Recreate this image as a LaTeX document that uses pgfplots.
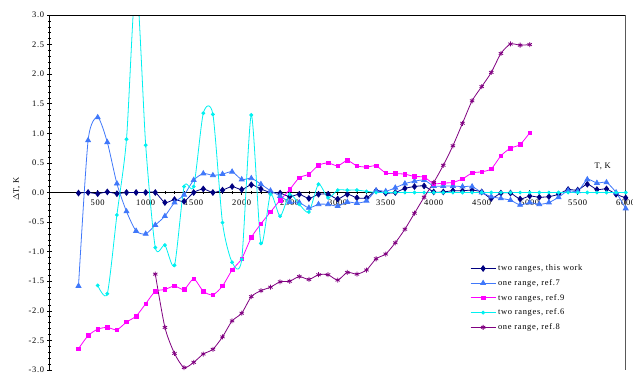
\documentclass[border=0pt]{standalone}
\usepackage{fontspec}
\setmainfont[LetterSpace=8]{Liberation Serif}
\usepackage{pgfplots}
\pgfplotsset{compat=1.18}
\definecolor{cnavy}{RGB}{0,0,128}
\definecolor{cblue}{RGB}{64,120,250}
\definecolor{cmag}{RGB}{255,0,255}
\definecolor{ccyan}{RGB}{0,240,240}
\definecolor{cpurp}{RGB}{128,0,128}
\begin{document}
\fontsize{8.5}{10}\selectfont
\begin{tikzpicture}
\begin{axis}[
  scale only axis, width=576bp, height=355bp,
  at={(0,0)}, anchor=south west,
  xmin=0, xmax=6000, ymin=-3, ymax=3,
  axis x line=middle, axis y line=left,
  axis line style={-, black, line width=0.8pt},
  xtick={500,1000,...,6000}, minor x tick num=4,
  ytick={-3,-2.5,...,3}, minor y tick num=4,
  tick align=center, major tick length=5bp, minor tick length=3bp,
  tick style={black, line width=0.6pt},
  xticklabel style={font=\fontsize{8.5}{10}\selectfont, yshift=-2bp},
  yticklabel style={font=\fontsize{8.5}{10}\selectfont},
  /pgf/number format/assume math mode=true,
  yticklabel={\pgfmathprintnumber[fixed,fixed zerofill,precision=1]{\tick}},
  xticklabel={\pgfmathprintnumber[int detect,1000 sep={}]{\tick}},
  ylabel={$\Delta$T, K},
  ylabel style={at={(axis description cs:-0.057,0.51)}, anchor=center, rotate=0, font=\fontsize{8.5}{10}\selectfont},
  legend style={at={(rel axis cs:0.728,0.305)}, anchor=north west, draw=none, fill=none,
     font=\fontsize{8.5}{10}\selectfont, row sep=3.5bp, inner sep=1bp},
  legend image code/.code={\draw[mark repeat=2,mark phase=2] plot coordinates {(0bp,0bp)(12.5bp,0bp)(25bp,0bp)};},
  legend cell align=left,
  clip=true,
  every axis plot/.append style={line width=0.8pt, smooth, tension=0.42},
]
% two ranges, this work
\addplot[cnavy, mark=diamond*, mark size=2.8bp, mark options={fill=cnavy}] coordinates {
(300,-0.01)(400,0)(500,-0.02)(600,0.01)(700,-0.02)(800,0)(900,0)(1000,0)(1100,0)
(1200,-0.17)(1300,-0.12)(1400,-0.15)(1500,0)(1600,0.06)(1700,0.0)(1800,0.04)(1900,0.1)
(2000,0.05)(2100,0.13)(2200,0.06)(2300,0.0)(2400,-0.01)(2500,-0.07)(2600,-0.03)(2700,-0.1)
(2800,-0.03)(2900,-0.03)(3000,-0.11)(3100,-0.03)(3200,-0.09)(3300,-0.09)(3400,0.03)
(3500,-0.01)(3600,0.0)(3700,0.07)(3800,0.1)(3900,0.11)(4000,0.01)(4100,0.01)(4200,0.03)
(4300,0.03)(4400,0.04)(4500,0.01)(4600,-0.1)(4700,-0.01)(4800,-0.01)(4900,-0.11)(5000,-0.06)
(5100,-0.08)(5200,-0.07)(5300,-0.03)(5400,0.05)(5500,0.04)(5600,0.14)(5700,0.05)(5800,0.06)
(5900,-0.03)(6000,-0.09)};
\addlegendentry{two ranges, this work}
% one range, ref.7
\addplot[cblue, mark=triangle*, mark size=2.8bp, mark options={fill=cblue}] coordinates {
(300,-1.58)(400,0.88)(500,1.27)(600,0.85)(700,0.15)(800,-0.32)(900,-0.65)(1000,-0.7)
(1100,-0.55)(1200,-0.4)(1300,-0.17)(1400,-0.04)(1500,0.21)(1600,0.32)(1700,0.29)(1800,0.31)
(1900,0.35)(2000,0.22)(2100,0.24)(2200,0.14)(2300,0.03)(2400,-0.06)(2500,-0.16)(2600,-0.17)
(2700,-0.26)(2800,-0.2)(2900,-0.2)(3000,-0.23)(3100,-0.16)(3200,-0.18)(3300,-0.14)(3400,0.03)
(3500,0.02)(3600,0.08)(3700,0.15)(3800,0.19)(3900,0.21)(4000,0.11)(4100,0.11)(4200,0.11)
(4300,0.1)(4400,0.1)(4500,0.0)(4600,-0.07)(4700,-0.1)(4800,-0.13)(4900,-0.21)(5000,-0.17)
(5100,-0.2)(5200,-0.17)(5300,-0.08)(5400,0.03)(5500,0.02)(5600,0.22)(5700,0.16)(5800,0.17)
(5900,0.0)(6000,-0.27)};
\addlegendentry{one range, ref.7}
% two ranges, ref.9
\addplot[cmag, mark=square*, mark size=1.8bp, mark options={fill=cmag}] coordinates {
(300,-2.64)(400,-2.42)(500,-2.31)(600,-2.28)(700,-2.32)(800,-2.19)(900,-2.09)(1000,-1.88)
(1100,-1.67)(1200,-1.64)(1300,-1.58)(1400,-1.64)(1500,-1.46)(1600,-1.67)(1700,-1.73)
(1800,-1.58)(1900,-1.31)(2000,-1.12)(2100,-0.76)(2200,-0.53)(2300,-0.33)(2400,-0.13)
(2500,0.05)(2600,0.25)(2700,0.31)(2800,0.46)(2900,0.5)(3000,0.45)(3100,0.54)(3200,0.45)
(3300,0.43)(3400,0.45)(3500,0.33)(3600,0.32)(3700,0.31)(3800,0.27)(3900,0.26)(4000,0.15)
(4100,0.16)(4200,0.17)(4300,0.23)(4400,0.33)(4500,0.35)(4600,0.4)(4700,0.62)(4800,0.75)
(4900,0.81)(5000,1.01)};
\addlegendentry{two ranges, ref.9}
% two ranges, ref.6
\addplot[ccyan, mark=*, mark size=1.5bp, mark options={fill=ccyan}] coordinates {
(500,-1.57)(600,-1.71)(700,-0.38)(800,0.9)(900,3.6)(1000,0.8)(1100,-0.93)(1200,-0.89)
(1300,-1.23)(1400,0.1)(1500,0.1)(1600,1.34)(1700,1.32)(1800,-0.51)(1900,-1.18)(2000,-1.13)
(2100,1.31)(2200,-0.86)(2300,-0.03)(2400,-0.4)(2500,-0.03)(2600,-0.2)(2700,-0.33)(2800,0.14)
(2900,-0.09)(3000,0.04)(3100,0.04)(3200,0.04)(3300,0.02)(3400,0.0)(3500,0.0)(3600,0.0)
(3700,0.0)(3800,0.0)(3900,0.0)(4000,0.0)(4100,0.0)(4200,0.0)(4300,0.0)(4400,0.0)(4500,0.0)
(4600,0.0)(4700,0.0)(4800,0.0)(4900,0.0)(5000,0.0)(5100,0.0)(5200,0.0)(5300,0.0)(5400,0.0)
(5500,0.0)(5600,0.0)(5700,0.0)(5800,0.0)(5900,0.0)(6000,0.0)};
\addlegendentry{two ranges,  ref.6}
% one range, ref.8
\addplot[cpurp, mark=asterisk, mark size=2.5bp] coordinates {
(1100,-1.38)(1200,-2.28)(1300,-2.72)(1400,-2.96)(1500,-2.87)(1600,-2.73)(1700,-2.65)
(1800,-2.44)(1900,-2.17)(2000,-2.04)(2100,-1.76)(2200,-1.66)(2300,-1.6)(2400,-1.51)
(2500,-1.5)(2600,-1.42)(2700,-1.47)(2800,-1.39)(2900,-1.39)(3000,-1.48)(3100,-1.35)
(3200,-1.38)(3300,-1.31)(3400,-1.12)(3500,-1.04)(3600,-0.85)(3700,-0.62)(3800,-0.35)
(3900,-0.08)(4000,0.17)(4100,0.46)(4200,0.79)(4300,1.17)(4400,1.55)(4500,1.79)(4600,2.03)
(4700,2.35)(4800,2.51)(4900,2.49)(5000,2.5)};
\addlegendentry{one range,  ref.8}
\draw[black, line width=0.8pt] (rel axis cs:0,0) rectangle (rel axis cs:1,1);
\node[anchor=center, font=\fontsize{8.5}{10}\selectfont] at (axis cs:5760,0.44) {T, K};
\end{axis}
\pgfresetboundingbox
\path (-49.7bp,-3bp) rectangle (583.3bp,370bp);
\end{tikzpicture}
\end{document}
